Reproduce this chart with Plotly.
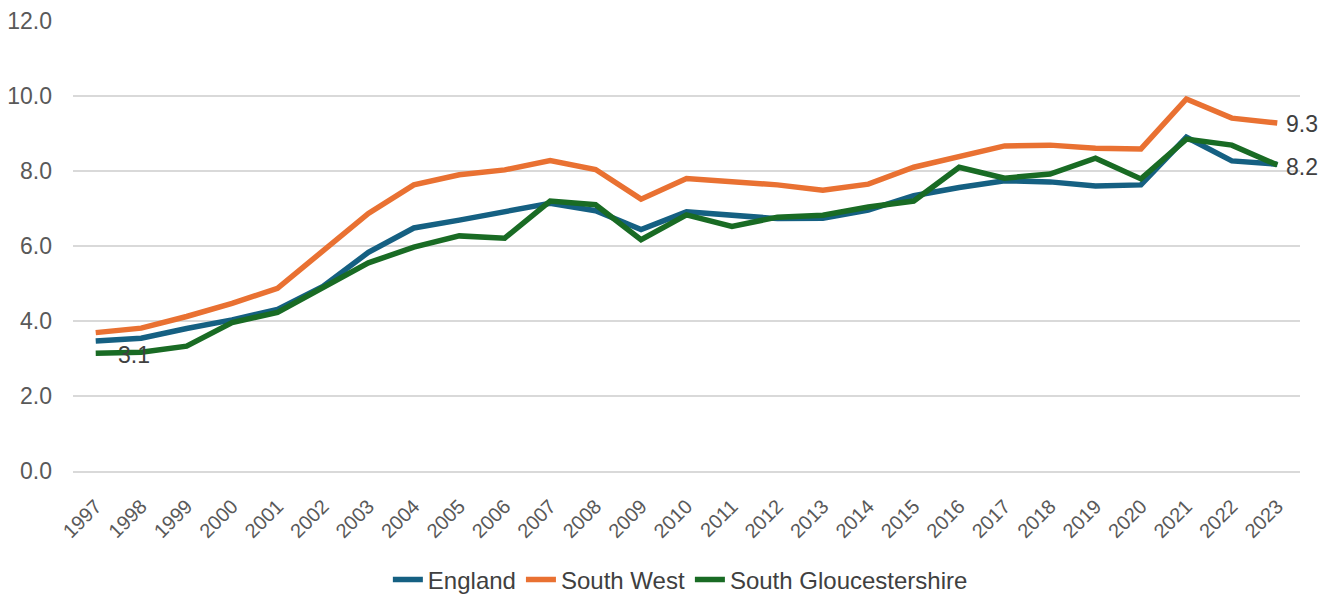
import plotly.graph_objects as go

years = [str(y) for y in range(1997, 2024)]

england = [3.47, 3.54, 3.80, 4.03, 4.31, 4.92, 5.83, 6.48, 6.69, 6.93, 7.14, 6.94, 6.44,
           6.91, 6.83, 6.73, 6.74, 6.96, 7.34, 7.56, 7.74, 7.71, 7.60, 7.63, 8.90, 8.27, 8.18]
south_west = [3.69, 3.81, 4.12, 4.47, 4.87, 5.89, 6.87, 7.63, 7.90, 8.03, 8.28, 8.04, 7.25,
              7.80, 7.70, 7.63, 7.49, 7.65, 8.10, 8.40, 8.67, 8.69, 8.61, 8.59, 9.92, 9.41, 9.28]
south_glos = [3.14, 3.17, 3.33, 3.96, 4.23, 4.88, 5.55, 5.97, 6.27, 6.21, 7.20, 7.10, 6.17,
              6.83, 6.52, 6.77, 6.82, 7.04, 7.20, 8.10, 7.81, 7.92, 8.34, 7.79, 8.85, 8.69, 8.16]

y_ticks = [0, 2, 4, 6, 8, 10, 12]

series = [
    ("England", england, "#156082"),
    ("South West", south_west, "#E97132"),
    ("South Gloucestershire", south_glos, "#196B24"),
]

fig = go.Figure()
for name, vals, col in series:
    fig.add_trace(go.Scatter(x=years, y=vals, name=name, mode="lines",
                             line=dict(color=col, width=5.5)))

font = "Liberation Sans, Arial, sans-serif"
txt_col = "#404040"
first_i = 0
last_i = len(years) - 1

# data labels (category index positions)
fig.add_annotation(x=first_i, y=south_glos[first_i], text=f"{south_glos[first_i]:.1f}",
                   showarrow=False, xanchor="left", yanchor="middle", xshift=20, yshift=-2,
                   font=dict(family=font, size=23, color=txt_col))
fig.add_annotation(x=last_i, y=south_west[last_i], text=f"{south_west[last_i]:.1f}",
                   showarrow=False, xanchor="left", yanchor="middle", xshift=7, yshift=-1,
                   font=dict(family=font, size=23, color=txt_col))
fig.add_annotation(x=last_i, y=england[last_i], text=f"{england[last_i]:.1f}",
                   showarrow=False, xanchor="left", yanchor="middle", xshift=7, yshift=-3,
                   font=dict(family=font, size=23, color=txt_col))

fig.update_layout(
    width=1336, height=594,
    margin=dict(l=73, r=36, t=21, b=123, autoexpand=False),
    plot_bgcolor="white", paper_bgcolor="white",
    font=dict(family=font, color="#595959"),
    showlegend=True,
    legend=dict(orientation="h", x=0.495, xanchor="center", y=-0.242, yanchor="middle",
                font=dict(family=font, size=24, color=txt_col),
                traceorder="normal", itemwidth=30),
    xaxis=dict(type="category", range=[-0.5, len(years) - 0.5], tickangle=-45,
               showgrid=False, showline=True, linecolor="#D9D9D9", linewidth=1.5,
               ticks="", ticklabelstandoff=14,
               tickfont=dict(family=font, size=20, color="#595959")),
    yaxis=dict(range=[0, 12], tickvals=y_ticks, ticktext=[f"{v:.1f}" for v in y_ticks],
               showgrid=True, gridcolor="#D9D9D9", gridwidth=1.5, zeroline=False,
               ticks="", ticklabelstandoff=20,
               tickfont=dict(family=font, size=23, color="#595959")),
)

fig.write_html("out.html", config={"displayModeBar": False},
               post_script="document.body.style.margin='0';document.body.style.overflow='hidden';")
